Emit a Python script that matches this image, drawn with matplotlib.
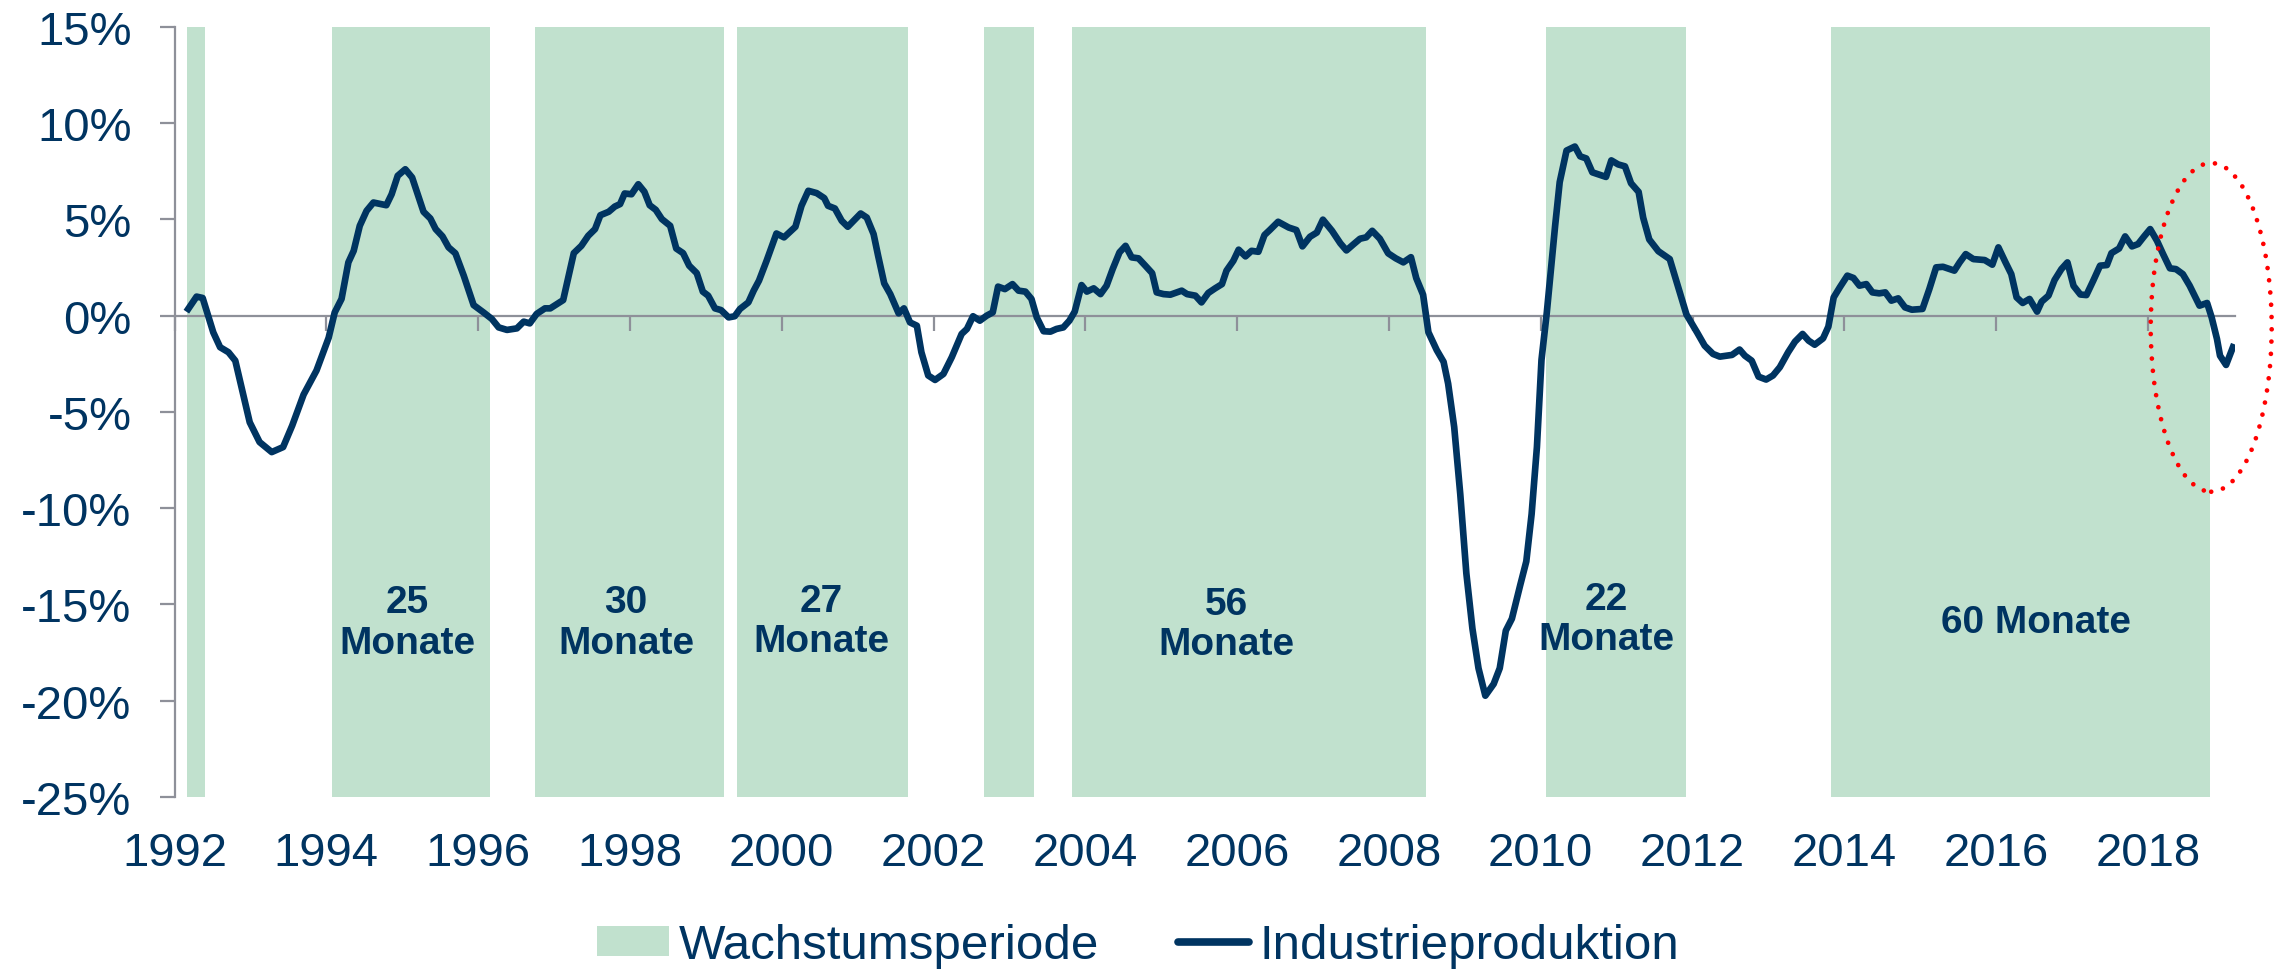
import numpy as np
import matplotlib
matplotlib.use('Agg')
import matplotlib.pyplot as plt
from matplotlib.patches import Patch, Ellipse
from matplotlib.lines import Line2D

plt.rcParams['font.family'] = ['Liberation Sans', 'DejaVu Sans']

navy = '#003461'
green = '#C1E1CE'
grey = '#8E9099'

# Industrieproduktion, YoY change in %
ip_years = [
    1992.18, 1992.29, 1992.37, 1992.51, 1992.60, 1992.71, 1992.80, 1992.99, 1993.12, 1993.28,
    1993.43, 1993.55, 1993.70, 1993.87, 1994.03, 1994.11, 1994.20, 1994.29, 1994.36, 1994.44,
    1994.53, 1994.62, 1994.79, 1994.86, 1994.94, 1995.04, 1995.13, 1995.21, 1995.28, 1995.37,
    1995.44, 1995.53, 1995.61, 1995.70, 1995.81, 1995.94, 1996.07, 1996.18, 1996.27, 1996.38,
    1996.51, 1996.60, 1996.68, 1996.77, 1996.88, 1996.95, 1997.12, 1997.26, 1997.36, 1997.45,
    1997.54, 1997.61, 1997.72, 1997.80, 1997.87, 1997.93, 1998.02, 1998.11, 1998.19, 1998.26,
    1998.34, 1998.42, 1998.53, 1998.61, 1998.70, 1998.78, 1998.88, 1998.96, 1999.03, 1999.12,
    1999.20, 1999.30, 1999.38, 1999.45, 1999.56, 1999.63, 1999.70, 1999.80, 1999.93, 2000.03,
    2000.18, 2000.26, 2000.35, 2000.46, 2000.56, 2000.61, 2000.70, 2000.79, 2000.87, 2001.04,
    2001.12, 2001.21, 2001.27, 2001.35, 2001.43, 2001.54, 2001.61, 2001.69, 2001.78, 2001.84,
    2001.93, 2002.02, 2002.13, 2002.24, 2002.37, 2002.44, 2002.52, 2002.61, 2002.70, 2002.78,
    2002.85, 2002.94, 2003.04, 2003.12, 2003.21, 2003.29, 2003.36, 2003.45, 2003.54, 2003.62,
    2003.71, 2003.79, 2003.86, 2003.95, 2004.02, 2004.11, 2004.20, 2004.28, 2004.36, 2004.45,
    2004.53, 2004.61, 2004.70, 2004.79, 2004.88, 2004.94, 2005.03, 2005.12, 2005.27, 2005.34,
    2005.45, 2005.53, 2005.62, 2005.71, 2005.80, 2005.86, 2005.95, 2006.02, 2006.11, 2006.19,
    2006.28, 2006.36, 2006.43, 2006.54, 2006.68, 2006.78, 2006.86, 2006.96, 2007.05, 2007.13,
    2007.25, 2007.36, 2007.44, 2007.53, 2007.62, 2007.70, 2007.78, 2007.88, 2007.99, 2008.09,
    2008.19, 2008.29, 2008.36, 2008.45, 2008.52, 2008.63, 2008.72, 2008.78, 2008.86, 2008.94,
    2009.02, 2009.10, 2009.18, 2009.27, 2009.38, 2009.46, 2009.54, 2009.62, 2009.73, 2009.81,
    2009.88, 2009.95, 2010.01, 2010.08, 2010.14, 2010.19, 2010.25, 2010.34, 2010.45, 2010.52,
    2010.60, 2010.68, 2010.86, 2010.93, 2011.02, 2011.11, 2011.19, 2011.29, 2011.35, 2011.43,
    2011.55, 2011.70, 2011.81, 2011.92, 2012.06, 2012.16, 2012.27, 2012.36, 2012.52, 2012.62,
    2012.69, 2012.78, 2012.87, 2012.97, 2013.06, 2013.15, 2013.26, 2013.35, 2013.45, 2013.53,
    2013.61, 2013.72, 2013.79, 2013.86, 2013.94, 2014.04, 2014.12, 2014.20, 2014.29, 2014.37,
    2014.46, 2014.54, 2014.62, 2014.71, 2014.80, 2014.89, 2015.03, 2015.12, 2015.21, 2015.30,
    2015.45, 2015.52, 2015.60, 2015.70, 2015.85, 2015.95, 2016.03, 2016.12, 2016.20, 2016.27,
    2016.35, 2016.44, 2016.54, 2016.60, 2016.69, 2016.77, 2016.86, 2016.94, 2017.02, 2017.11,
    2017.19, 2017.28, 2017.37, 2017.46, 2017.52, 2017.62, 2017.70, 2017.79, 2017.87, 2017.95,
    2018.03, 2018.12, 2018.20, 2018.29, 2018.37, 2018.46, 2018.55, 2018.68, 2018.78, 2018.84,
    2018.91, 2018.95, 2019.03, 2019.12,
]
ip_values = [
    0.35, 0.99, 0.92, -0.87, -1.64, -1.90, -2.34, -5.54, -6.57, -7.09,
    -6.83, -5.71, -4.10, -2.85, -1.15, 0.17, 0.87, 2.77, 3.37, 4.67,
    5.45, 5.88, 5.74, 6.31, 7.27, 7.61, 7.18, 6.23, 5.40, 5.05,
    4.50, 4.12, 3.55, 3.24, 2.08, 0.55, 0.17, -0.17, -0.61, -0.74,
    -0.66, -0.31, -0.40, 0.09, 0.38, 0.38, 0.81, 3.25, 3.63, 4.15,
    4.50, 5.22, 5.40, 5.67, 5.80, 6.35, 6.31, 6.83, 6.44, 5.74,
    5.50, 5.02, 4.67, 3.49, 3.25, 2.60, 2.21, 1.25, 1.04, 0.38,
    0.29, -0.09, -0.03, 0.35, 0.69, 1.30, 1.82, 2.85, 4.27, 4.07,
    4.62, 5.71, 6.49, 6.37, 6.11, 5.71, 5.57, 4.93, 4.62, 5.31,
    5.10, 4.24, 3.11, 1.68, 1.12, 0.12, 0.38, -0.35, -0.52, -1.90,
    -3.11, -3.34, -3.03, -2.16, -0.95, -0.69, -0.03, -0.26, 0.00, 0.17,
    1.51, 1.38, 1.64, 1.30, 1.25, 0.87, -0.09, -0.81, -0.83, -0.69,
    -0.61, -0.26, 0.21, 1.59, 1.25, 1.42, 1.12, 1.56, 2.42, 3.29,
    3.63, 3.03, 2.98, 2.60, 2.21, 1.21, 1.12, 1.09, 1.30, 1.12,
    1.04, 0.69, 1.18, 1.42, 1.64, 2.34, 2.85, 3.43, 3.08, 3.37,
    3.32, 4.19, 4.45, 4.88, 4.58, 4.45, 3.60, 4.10, 4.32, 4.99,
    4.41, 3.76, 3.39, 3.70, 4.00, 4.07, 4.41, 4.00, 3.24, 2.98,
    2.77, 3.04, 1.95, 1.09, -0.86, -1.79, -2.40, -3.53, -5.79, -9.28,
    -13.39, -16.26, -18.32, -19.75, -19.14, -18.32, -16.37, -15.75, -14.00, -12.77,
    -10.31, -6.82, -2.30, 0.16, 2.63, 4.68, 6.94, 8.58, 8.79, 8.28,
    8.17, 7.45, 7.21, 8.07, 7.86, 7.76, 6.88, 6.43, 5.09, 3.96,
    3.35, 2.94, 1.50, 0.06, -0.87, -1.56, -1.99, -2.13, -2.04, -1.76,
    -2.08, -2.34, -3.17, -3.32, -3.11, -2.68, -1.90, -1.35, -0.95, -1.30,
    -1.51, -1.18, -0.57, 0.95, 1.47, 2.08, 1.96, 1.56, 1.64, 1.21,
    1.16, 1.21, 0.78, 0.90, 0.43, 0.31, 0.35, 1.38, 2.51, 2.54,
    2.34, 2.77, 3.20, 2.94, 2.89, 2.65, 3.55, 2.80, 2.16, 0.95,
    0.66, 0.87, 0.21, 0.73, 1.04, 1.85, 2.42, 2.77, 1.55, 1.10,
    1.07, 1.82, 2.60, 2.63, 3.25, 3.49, 4.12, 3.60, 3.72, 4.12,
    4.50, 3.89, 3.20, 2.46, 2.42, 2.16, 1.56, 0.52, 0.66, -0.09,
    -1.21, -2.08, -2.56, -1.64,
]

# Wachstumsperioden (start, end in decimal years)
band_starts = [1992.17, 1994.08, 1996.75, 1999.41, 2002.66, 2003.82, 2010.07, 2013.83]
band_ends = [1992.40, 1996.15, 1999.24, 2001.66, 2003.33, 2008.49, 2011.91, 2018.82]

# duration labels
label_texts = ['25\nMonate', '30\nMonate', '27\nMonate', '56\nMonate', '22\nMonate', '60 Monate']
label_x = [1995.07, 1997.95, 2000.52, 2005.86, 2010.86, 2016.52]
label_y = [-15.95, -15.95, -15.88, -16.03, -15.77, -15.9]

year_ticks = list(range(1992, 2019, 2))
pct_ticks = list(range(-25, 16, 5))

fig = plt.figure(figsize=(22.85, 9.7), dpi=100)
ax = fig.add_axes([0.0764, 0.1776, 0.9017, 0.7935])

for s, e in zip(band_starts, band_ends):
    ax.axvspan(s, e, color=green, lw=0, zorder=1)

ax.plot(ip_years, ip_values, color=navy, lw=4.8, zorder=4, solid_joinstyle='round')

for t, x, y in zip(label_texts, label_x, label_y):
    ax.text(x, y, t, ha='center', va='center', fontsize=28, fontweight='bold',
            color=navy, linespacing=1.15, zorder=5)

ax.set_xlim(1992, 2019.147)
ax.set_ylim(-25, 15)

for side in ['top', 'right']:
    ax.spines[side].set_visible(False)
ax.spines['bottom'].set_position(('data', 0))
ax.spines['bottom'].set_color(grey)
ax.spines['bottom'].set_linewidth(1.6)
ax.spines['bottom'].set_zorder(3)
ax.spines['left'].set_color(grey)
ax.spines['left'].set_linewidth(1.6)

ax.set_xticks(year_ticks)
ax.tick_params(axis='x', direction='out', length=11, width=1.6, color=grey, labelbottom=False)
ax.set_yticks(pct_ticks)
ax.set_yticklabels([f'{v}%' for v in pct_ticks])
ax.tick_params(axis='y', direction='out', length=11, width=1.6, color=grey,
               labelsize=34, labelcolor=navy, pad=20)

sec = ax.secondary_xaxis('bottom')
sec.set_xticks(year_ticks)
sec.spines['bottom'].set_visible(False)
sec.tick_params(length=0, labelsize=34, labelcolor=navy, pad=25)

ell = Ellipse((2018.834, -0.61), 1.594, 17.08, fill=False, edgecolor='#FF0000',
              linewidth=3.4, linestyle=(0, (0.001, 2.6)), clip_on=False, zorder=6)
ell.set_capstyle('round')
ax.add_patch(ell)

handles = [Patch(facecolor=green, edgecolor='none'),
           Line2D([0], [0], color=navy, lw=5.5, solid_capstyle='round')]
fig.legend(handles, ['Wachstumsperiode', 'Industrieproduktion'], loc='center',
           bbox_to_anchor=(0.498, 0.024), ncol=2, frameon=False, fontsize=35.5,
           labelcolor=navy, handlelength=1.45, handleheight=0.55, handletextpad=0.2,
           columnspacing=1.6)

fig.savefig('out.png', dpi=100)
